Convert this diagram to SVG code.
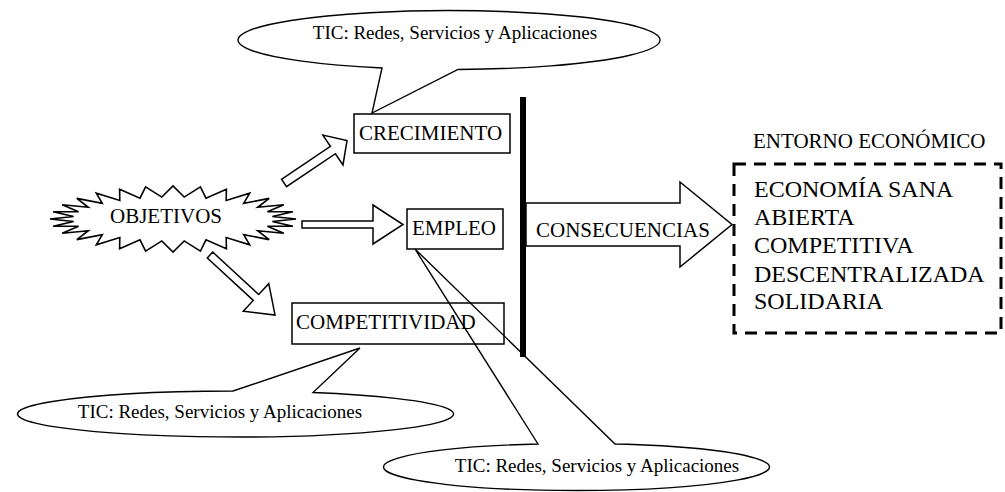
<svg xmlns="http://www.w3.org/2000/svg" width="1005" height="492" viewBox="0 0 1005 492">
<style>
  .box { fill: #fff; stroke: #000; stroke-width: 1.5; }
  .arrow { fill: #fff; stroke: #000; stroke-width: 1.5; stroke-linejoin: miter; }
  .callout { fill: none; stroke: #000; stroke-width: 1.4; stroke-linejoin: miter; }
  text { font-family: "Liberation Serif", Tinos, "Times New Roman", Times, "DejaVu Serif", "Noto Serif", serif; fill: #000; }
  .lbl { font-size: 21px; }
  .tic { font-size: 19px; text-anchor: middle; }
  .list { font-size: 24px; }
</style>
<rect width="1005" height="492" fill="#fff"/>

<g id="connectors">
  <polygon class="arrow" points="0,-4.5 59,-4.5 59,-18 76,0 59,18 59,4.5 0,4.5" transform="translate(284,183) rotate(-34)"/>
  <polygon class="arrow" points="302,221 373,221 373,205 403,224.5 373,244 373,228 302,228"/>
  <polygon class="arrow" points="0,-4 62.6,-4 62.6,-18.8 88.5,0 62.6,18.8 62.6,4 0,4" transform="translate(210,255) rotate(42.7)"/>
</g>

<g id="objetivos">
  <polygon fill="#fff" stroke="#000" stroke-width="1.6" points="296,219 272.4,216.5 292.9,211.7 267.4,211.7 283.8,204.7 257.7,207.3 269.2,198.4 243.7,203.4 249.7,193.2 226.2,200.4 226.4,189.3 206,198.2 200.4,186.8 184.2,197.1 173,186 161.8,197.1 145.6,186.8 140,198.2 119.6,189.3 119.8,200.4 96.3,193.2 102.3,203.4 76.8,198.4 88.3,207.3 62.2,204.7 78.6,211.7 53.1,211.7 73.6,216.5 50,219 73.6,221.5 53.1,226.3 78.6,226.3 62.2,233.3 88.3,230.7 76.8,239.6 102.3,234.6 96.3,244.8 119.8,237.6 119.6,248.7 140,239.8 145.6,251.2 161.8,240.9 173,252 184.2,240.9 200.4,251.2 206,239.8 226.4,248.7 226.2,237.6 249.7,244.8 243.7,234.6 269.2,239.6 257.7,230.7 283.8,233.3 267.4,226.3 292.9,226.3 272.4,221.5"/>
  <text class="lbl" x="110" y="223">OBJETIVOS</text>
</g>

<g id="crecimiento">
  <rect class="box" x="354" y="114" width="156" height="39"/>
  <text class="lbl" x="359" y="140">CRECIMIENTO</text>
</g>

<g id="empleo">
  <rect class="box" x="407" y="209" width="96" height="40"/>
  <text class="lbl" x="412" y="235">EMPLEO</text>
</g>

<g id="competitividad">
  <rect class="box" x="292" y="303" width="212" height="41"/>
  <text class="lbl" x="296" y="329">COMPETITIVIDAD</text>
</g>

<g id="barra">
  <rect x="520" y="97" width="6" height="260" fill="#000"/>
</g>

<g id="consecuencias">
  <polygon class="arrow" points="526,203 680,203 680,182 732,224.5 680,267 680,246 526,246"/>
  <text class="lbl" x="536" y="237">CONSECUENCIAS</text>
</g>

<g id="entorno">
  <text class="lbl" x="753" y="148">ENTORNO ECONÓMICO</text>
  <rect x="734" y="164" width="267" height="169" fill="none" stroke="#000" stroke-width="3" stroke-dasharray="12 8"/>
  <text class="list" x="754" y="197">ECONOMÍA SANA</text>
  <text class="list" x="754" y="225">ABIERTA</text>
  <text class="list" x="754" y="253">COMPETITIVA</text>
  <text class="list" x="754" y="282">DESCENTRALIZADA</text>
  <text class="list" x="754" y="309">SOLIDARIA</text>
</g>

<g id="tic-top">
  <path class="callout" d="M 382 68 L 372 113 L 458 69.5 A 211 29.5 0 1 0 382 68 Z"/>
  <text class="tic" x="455" y="39">TIC: Redes, Servicios y Aplicaciones</text>
</g>

<g id="tic-left">
  <path class="callout" d="M 233 391 L 360 348 L 313 392.5 A 218 23 0 1 1 233 391 Z"/>
  <text class="tic" x="220" y="418">TIC: Redes, Servicios y Aplicaciones</text>
</g>

<g id="tic-bottom">
  <path class="callout" d="M 538 444 L 415 249 L 615 444 A 193 23.5 0 1 1 538 444 Z"/>
  <text class="tic" x="597" y="472">TIC: Redes, Servicios y Aplicaciones</text>
</g>
</svg>
